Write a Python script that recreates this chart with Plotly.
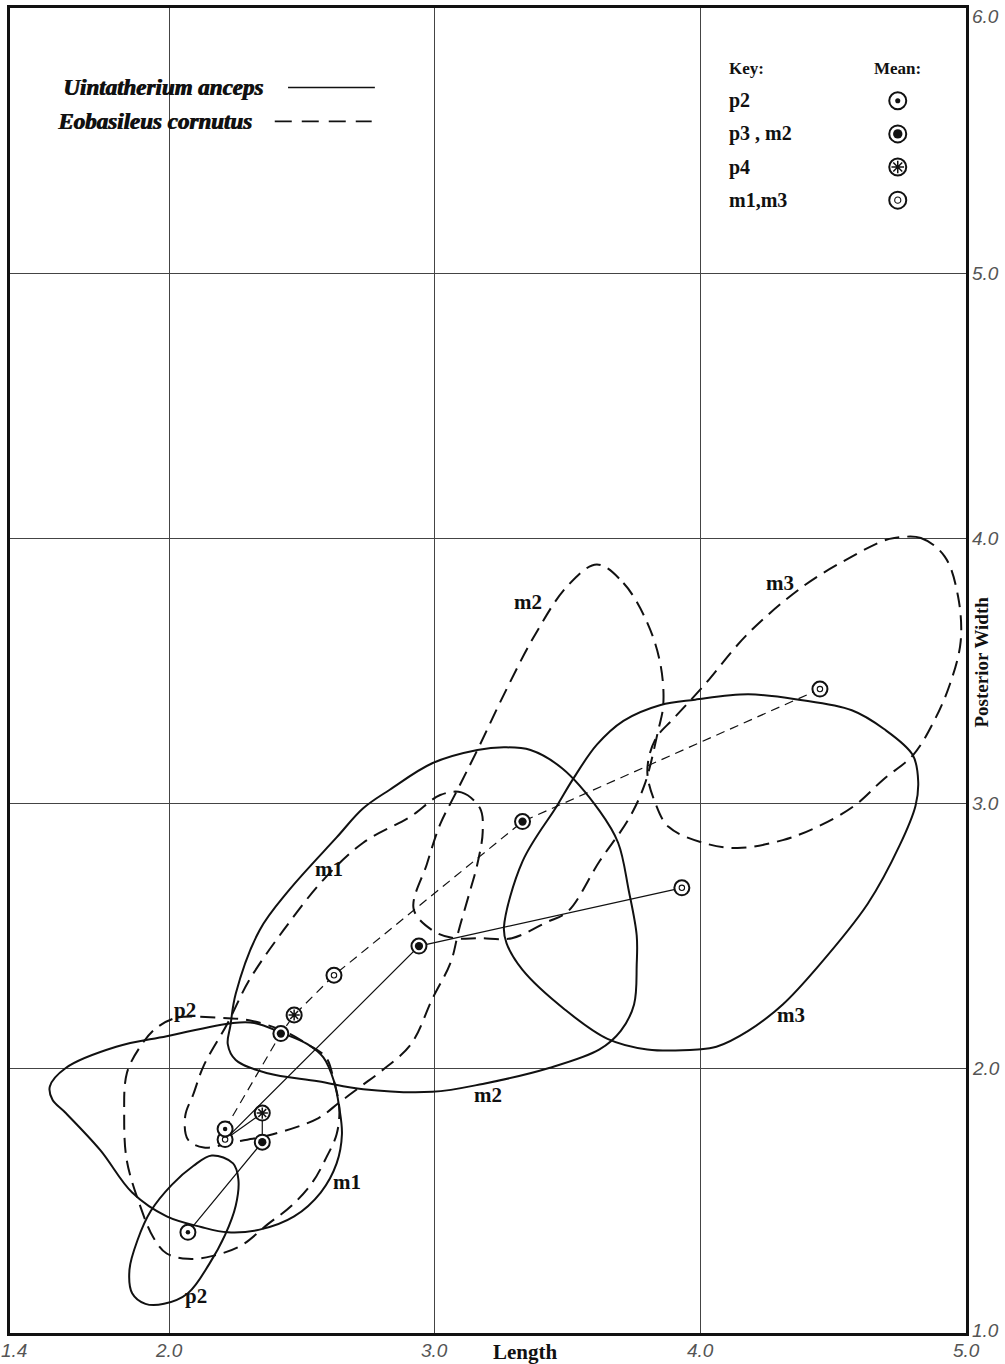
import plotly.graph_objects as go

# ---------------------------------------------------------------------------
# Cheek-tooth measurements (length vs. posterior width, in cm)
# ---------------------------------------------------------------------------
teeth = ["p2", "p3", "p4", "m1", "m2", "m3"]

# Kind of mean symbol used for each tooth
mean_kind = {"p2": "dot", "p3": "filled", "m2": "filled", "p4": "star",
             "m1": "small", "m3": "small"}

# Means, joined in tooth order
uinta_len = [2.07, 2.35, 2.35, 2.21, 2.94, 3.93]
uinta_wid = [1.38, 1.72, 1.83, 1.73, 2.46, 2.68]
eoba_len = [2.21, 2.42, 2.47, 2.62, 3.33, 4.45]
eoba_wid = [1.77, 2.13, 2.20, 2.35, 2.93, 3.43]

# Observed ranges, Uintatherium anceps (solid outlines)
uinta_p2_x = [2.16, 2.24, 2.26, 2.25, 2.21, 2.15, 2.07, 1.98, 1.91, 1.86, 1.85, 1.88, 1.93, 2.01, 2.09]
uinta_p2_y = [1.67, 1.64, 1.58, 1.48, 1.37, 1.26, 1.15, 1.11, 1.11, 1.15, 1.24, 1.35, 1.46, 1.56, 1.63]

uinta_m1_x = [1.61, 1.80, 1.99, 2.24, 2.32, 2.43, 2.52, 2.58, 2.62, 2.64, 2.65, 2.63, 2.57, 2.47,
              2.34, 2.22, 2.12, 1.99, 1.86, 1.74, 1.61, 1.56, 1.55]
uinta_m1_y = [2.00, 2.08, 2.12, 2.17, 2.17, 2.13, 2.09, 2.04, 1.95, 1.85, 1.75, 1.64, 1.53, 1.44,
              1.39, 1.38, 1.40, 1.44, 1.53, 1.69, 1.83, 1.88, 1.93]

uinta_m2_x = [2.23, 2.25, 2.34, 2.45, 2.63, 2.73, 2.83, 2.99, 3.16, 3.26, 3.36, 3.48, 3.62, 3.69,
              3.73, 3.76, 3.76, 3.75, 3.70, 3.62, 3.43, 3.18, 2.99, 2.73, 2.56, 2.37, 2.25, 2.22]
uinta_m2_y = [2.16, 2.28, 2.52, 2.67, 2.87, 2.98, 3.05, 3.15, 3.20, 3.21, 3.20, 3.13, 2.97, 2.85,
              2.67, 2.50, 2.39, 2.24, 2.14, 2.07, 2.00, 1.94, 1.91, 1.92, 1.95, 1.98, 2.03, 2.09]

uinta_m3_x = [3.26, 3.33, 3.46, 3.52, 3.61, 3.71, 3.85, 3.98, 4.18, 4.37, 4.57, 4.69, 4.80, 4.82,
              4.81, 4.75, 4.63, 4.44, 4.31, 4.18, 4.06, 3.99, 3.80, 3.65, 3.49, 3.33, 3.27]
uinta_m3_y = [2.53, 2.78, 2.99, 3.09, 3.22, 3.31, 3.37, 3.39, 3.41, 3.39, 3.35, 3.28, 3.18, 3.08,
              2.99, 2.84, 2.62, 2.38, 2.24, 2.14, 2.08, 2.07, 2.07, 2.11, 2.22, 2.37, 2.47]

# Observed ranges, Eobasileus cornutus (dashed outlines)
eoba_p2_x = [1.95, 2.03, 2.18, 2.30, 2.43, 2.52, 2.59, 2.62, 2.64, 2.63, 2.59, 2.54, 2.46, 2.37,
             2.27, 2.16, 2.07, 1.99, 1.94, 1.89, 1.84, 1.83, 1.84, 1.89]
eoba_p2_y = [2.15, 2.19, 2.19, 2.18, 2.14, 2.09, 2.04, 1.95, 1.85, 1.75, 1.66, 1.57, 1.48, 1.41,
             1.33, 1.29, 1.28, 1.30, 1.36, 1.48, 1.65, 1.82, 1.98, 2.08]

eoba_m1_x = [3.02, 3.10, 3.17, 3.18, 3.16, 3.13, 3.09, 3.06, 2.99, 2.91, 2.80, 2.72, 2.64, 2.56,
             2.39, 2.24, 2.13, 2.07, 2.06, 2.09, 2.13, 2.22, 2.30, 2.43, 2.58, 2.73, 2.91]
eoba_m1_y = [3.03, 3.04, 2.98, 2.89, 2.77, 2.66, 2.52, 2.40, 2.26, 2.09, 1.99, 1.93, 1.87, 1.81,
             1.75, 1.72, 1.70, 1.73, 1.82, 1.90, 2.01, 2.17, 2.33, 2.52, 2.71, 2.85, 2.95]

eoba_m2_x = [3.61, 3.71, 3.80, 3.85, 3.86, 3.84, 3.79, 3.73, 3.62, 3.50, 3.42, 3.29, 3.17, 3.07,
             2.99, 2.92, 2.97, 3.02, 3.08, 3.16, 3.27, 3.38, 3.50]
eoba_m2_y = [3.90, 3.83, 3.68, 3.52, 3.37, 3.27, 3.07, 2.94, 2.78, 2.59, 2.55, 2.49, 2.49, 2.49,
             2.52, 2.60, 2.77, 2.92, 3.04, 3.20, 3.43, 3.64, 3.82]

eoba_m3_x = [4.73, 4.83, 4.92, 4.97, 4.98, 4.94, 4.88, 4.80, 4.69, 4.58, 4.44, 4.31, 4.14, 4.01,
             3.88, 3.83, 3.80, 3.83, 3.90, 4.01, 4.18, 4.39, 4.57, 4.69]
eoba_m3_y = [4.00, 4.00, 3.93, 3.78, 3.61, 3.45, 3.31, 3.18, 3.09, 2.99, 2.91, 2.86, 2.83, 2.85,
             2.91, 3.00, 3.12, 3.24, 3.32, 3.44, 3.64, 3.82, 3.93, 3.99]

# Axis ticks
x_ticks = [1.4, 2.0, 3.0, 4.0, 5.0]
y_ticks = [1.0, 2.0, 3.0, 4.0, 5.0, 6.0]

# Key entries
key_rows = ["p2", "p3 , m2", "p4", "m1,m3"]
key_kinds = ["dot", "filled", "star", "small"]

species = ["Uintatherium anceps", "Eobasileus cornutus"]

# ---------------------------------------------------------------------------
INK = "#111111"
SERIF = "Liberation Serif, Times New Roman, serif"
SANS = "Liberation Sans, Arial, sans-serif"
OUTLINE_DASH = "15px,8px"
MEAN_DASH = "9px,6px"

fig = go.Figure()


def add_outline(xs, ys, dash):
    # repeating the first vertex closes the spline smoothly
    fig.add_trace(go.Scatter(
        x=list(xs) + [xs[0]], y=list(ys) + [ys[0]], mode="lines",
        line=dict(color=INK, width=2, shape="spline", smoothing=1.0, dash=dash),
        hoverinfo="skip"))


for xs, ys in [(uinta_p2_x, uinta_p2_y), (uinta_m1_x, uinta_m1_y),
               (uinta_m2_x, uinta_m2_y), (uinta_m3_x, uinta_m3_y)]:
    add_outline(xs, ys, "solid")

for xs, ys in [(eoba_p2_x, eoba_p2_y), (eoba_m1_x, eoba_m1_y),
               (eoba_m2_x, eoba_m2_y), (eoba_m3_x, eoba_m3_y)]:
    add_outline(xs, ys, OUTLINE_DASH)

# Lines joining the means
fig.add_trace(go.Scatter(x=uinta_len, y=uinta_wid, mode="lines",
                         line=dict(color=INK, width=1.2), hoverinfo="skip"))
fig.add_trace(go.Scatter(x=eoba_len, y=eoba_wid, mode="lines",
                         line=dict(color=INK, width=1.2, dash=MEAN_DASH), hoverinfo="skip"))

INNER = {
    "dot": dict(symbol="circle", scale=0.30, color=INK, lw=0),
    "filled": dict(symbol="circle", scale=0.55, color=INK, lw=0),
    "star": dict(symbol="asterisk-open", scale=0.62, color=INK, lw=1.5),
    "small": dict(symbol="circle-open", scale=0.36, color=INK, lw=1.1),
}


def add_mean_marks(xs, ys, kinds, ring):
    fig.add_trace(go.Scatter(
        x=xs, y=ys, mode="markers",
        marker=dict(symbol="circle", size=ring, color="white",
                    line=dict(color=INK, width=2)),
        hoverinfo="skip"))
    for kind, st in INNER.items():
        idx = [i for i, k in enumerate(kinds) if k == kind]
        if not idx:
            continue
        fig.add_trace(go.Scatter(
            x=[xs[i] for i in idx], y=[ys[i] for i in idx], mode="markers",
            marker=dict(symbol=st["symbol"], size=ring * st["scale"], color=st["color"],
                        line=dict(color=INK, width=st["lw"])),
            hoverinfo="skip"))


add_mean_marks(uinta_len, uinta_wid, [mean_kind[t] for t in teeth], 15)
add_mean_marks(eoba_len, eoba_wid, [mean_kind[t] for t in teeth], 15)

# Key block (top right)
key_x_text, key_x_mark = 4.10, 4.743
key_top, key_step = 5.65, 0.125
key_ys = [key_top - i * key_step for i in range(len(key_rows))]
add_mean_marks([key_x_mark] * len(key_rows), key_ys, key_kinds, 17)

annotations = []


def label(text, x, y, size=20, xanchor="center", italic=False, xref="x", yref="y", **kw):
    yanchor = kw.pop("yanchor", "middle")
    body = f"<b><i>{text}</i></b>" if italic else f"<b>{text}</b>"
    # italic bold text is drawn twice, a hair apart, for a heavier stroke
    for dx in ((0, 0.8) if italic else (0,)):
        annotations.append(dict(
            text=body, x=x, y=y, xref=xref, yref=yref, xanchor=xanchor,
            yanchor=yanchor, showarrow=False, xshift=kw.get("xshift", 0) + dx,
            yshift=kw.get("yshift", 0),
            font=dict(family=SERIF, size=size, color=INK)))


label("Key:", key_x_text, key_top + 0.12, size=17, xanchor="left")
label("Mean:", key_x_mark, key_top + 0.12, size=17)
for name, y in zip(key_rows, key_ys):
    label(name, key_x_text, y, size=20, xanchor="left")

# Species legend (top left)
label(species[0], 2.36, 5.70, size=23, xanchor="right", italic=True)
label(species[1], 2.32, 5.57, size=23, xanchor="right", italic=True)
fig.add_shape(type="line", x0=2.447, x1=2.774, y0=5.70, y1=5.70,
              line=dict(color=INK, width=1.6))
fig.add_shape(type="line", x0=2.397, x1=2.762, y0=5.572, y1=5.572,
              line=dict(color=INK, width=1.6, dash="17px,10px"))

# Outline labels
outline_labels = [("p2", 2.06, 2.22), ("p2", 2.10, 1.14), ("m1", 2.60, 2.75),
                  ("m1", 2.67, 1.57), ("m2", 3.20, 1.90), ("m2", 3.35, 3.76),
                  ("m3", 4.30, 3.83), ("m3", 4.34, 2.20)]
for text, x, y in outline_labels:
    label(text, x, y, size=21)

# Tick labels
TICK_FONT = dict(family=SANS, size=19, color="#555555", style="italic")
for v in x_ticks:
    annotations.append(dict(
        text=f"{v:.1f}", x=v, xref="x", y=0, yref="paper", yanchor="top",
        xanchor="center", xshift=4 if v == x_ticks[0] else 0, yshift=-5,
        showarrow=False, font=TICK_FONT))
for v in y_ticks:
    shift = -8 if v == y_ticks[-1] else (3 if v == y_ticks[0] else 0)
    annotations.append(dict(
        text=f"{v:.1f}", x=1, xref="paper", y=v, yref="y", xanchor="left",
        yanchor="middle", xshift=4, yshift=shift, showarrow=False, font=TICK_FONT))

# Axis titles
label("Length", 3.34, 0, size=21, yref="paper", yanchor="top", yshift=-5)
annotations.append(dict(
    text="<b>Posterior Width</b>", x=1, xref="paper", y=3.53, yref="y",
    xanchor="center", yanchor="middle", xshift=16, textangle=-90, showarrow=False,
    font=dict(family=SERIF, size=19, color=INK)))

fig.update_layout(
    width=1005, height=1364,
    margin=dict(l=10, r=39, t=5, b=31),
    paper_bgcolor="white", plot_bgcolor="white",
    showlegend=False,
    annotations=annotations,
)
axis_style = dict(showticklabels=False, ticks="", showgrid=True, gridcolor="#444444",
                  gridwidth=1, zeroline=False, showline=True, linecolor=INK,
                  linewidth=3, mirror=True, fixedrange=True)
fig.update_xaxes(range=[1.4, 5.0], tickvals=x_ticks, **axis_style)
fig.update_yaxes(range=[1.0, 6.0], tickvals=y_ticks, **axis_style)

fig.write_html("out.html")
